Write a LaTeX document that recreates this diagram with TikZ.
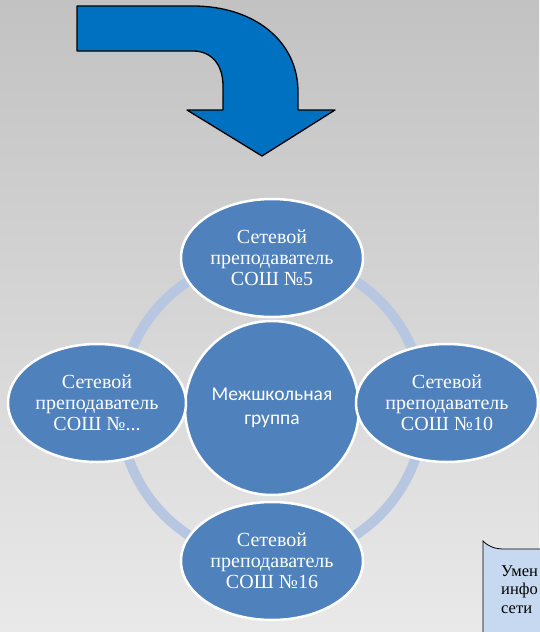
\documentclass[tikz,border=0pt]{standalone}
\usepackage{fontspec}
\setmainfont{Liberation Serif}
\newfontfamily\groupfont{Carlito}
\usepackage{xcolor}
\usetikzlibrary{shapes.geometric}

\definecolor{bgtop}{HTML}{C2C2C2}
\definecolor{bgbottom}{HTML}{E9E9E9}
\definecolor{nodeblue}{HTML}{4F81BD}
\definecolor{ringblue}{HTML}{B7C7E2}
\definecolor{arrowblue}{HTML}{0070C0}
\definecolor{noteblue}{HTML}{C6D9F1}

\begin{document}
\begin{tikzpicture}[
    x=1pt, y=-1pt,
    teacher/.style={ellipse, draw=white, line width=2.5pt, fill=nodeblue,
        minimum width=182pt, minimum height=118pt, inner sep=0pt,
        text=white, align=center, font=\fontsize{20}{21}\selectfont},
    group/.style={circle, draw=white, line width=2.5pt, fill=nodeblue,
        minimum size=174pt, inner sep=0pt,
        text=white, align=center, font=\groupfont\fontsize{19.5}{24}\selectfont},
    ring/.style={ringblue, line width=10pt},
    bentarrow/.style={fill=arrowblue, draw=black, line width=1.3pt, line join=round},
    note/.style={fill=noteblue, draw=black, line width=0.8pt},
    ]

    % Background
    \shade[top color=bgtop, bottom color=bgbottom] (0,0) rectangle (539,632);
    \useasboundingbox (0,0) rectangle (539,632);

    % Bent arrow on top
    \draw[bentarrow] (77,6) -- (193,6)
        .. controls (253,6) and (298,40) .. (298,92) -- (298,110)
        -- (335,110) -- (262,156) -- (187,110) -- (223,110) -- (223,86)
        .. controls (223,64) and (211,51) .. (193,51) -- (77,51) -- cycle;

    % Ring behind the nodes
    \coordinate (hub) at (272,408);
    \draw[ring] (hub) circle[radius=152pt];

    % Central node
    \node[group] (grp) at (hub) {Межшкольная\\группа};

    % Teacher nodes around it
    \node[teacher] (t5) at (272,258) {Сетевой\\преподаватель\\СОШ №5};
    \node[teacher] (t10) at (447,403) {Сетевой\\преподаватель\\СОШ №10};
    \node[teacher] (t16) at (272,561) {Сетевой\\преподаватель\\СОШ №16};
    \node[teacher, minimum width=178pt] (tx) at (97,403) {Сетевой\\преподаватель\\СОШ №...};

    % Note box at the lower right, cut by the page edge
    \draw[note] (483,640) -- (483,541)
        .. controls (489,547) and (495,549) .. (505,549) -- (545,549) -- (545,640);
    \node[anchor=north west, align=left, inner sep=0pt,
        font=\fontsize{16.5}{18.5}\selectfont] (notetext) at (501,565) {Умен\\инфо\\сети};

\end{tikzpicture}
\end{document}
